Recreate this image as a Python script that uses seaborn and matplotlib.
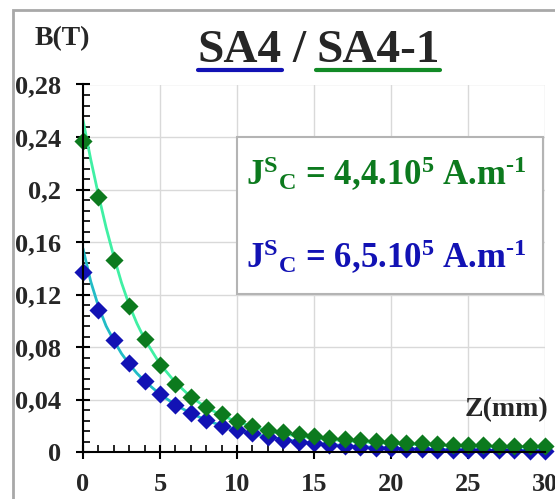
import matplotlib
matplotlib.use('Agg')
import matplotlib.pyplot as plt
import seaborn as sns
import pandas as pd
from matplotlib.patches import Rectangle
from matplotlib.lines import Line2D
from matplotlib.ticker import MultipleLocator, FixedLocator

# ---------------- data ----------------
z_points = list(range(0, 31))
b_sa4_1 = [0.237, 0.194, 0.146, 0.111, 0.086, 0.066, 0.052, 0.042, 0.0345, 0.0287,
           0.024, 0.020, 0.017, 0.015, 0.0135, 0.012, 0.011, 0.010, 0.0092, 0.0085,
           0.0078, 0.0071, 0.0066, 0.0061, 0.0057, 0.0054, 0.0051, 0.0048, 0.0046, 0.0044, 0.0042]
b_sa4 = [0.137, 0.108, 0.085, 0.068, 0.054, 0.044, 0.036, 0.0295, 0.0244, 0.0198,
         0.0168, 0.0142, 0.0112, 0.0092, 0.0079, 0.0066, 0.0055, 0.0047, 0.0039, 0.0034,
         0.0029, 0.0024, 0.0021, 0.0019, 0.0017, 0.0015, 0.0014, 0.0013, 0.0012, 0.0011, 0.0010]

z_curve = [0, 0.5, 1, 1.5, 2, 2.5, 3, 3.5, 4, 5, 6, 7, 8, 9, 10, 12, 14, 16, 18, 20, 22, 25, 28, 30]
fit_sa4_1 = [0.253, 0.223, 0.196, 0.171, 0.149, 0.129, 0.112, 0.098, 0.086, 0.067, 0.053, 0.042,
             0.034, 0.028, 0.023, 0.016, 0.012, 0.0095, 0.0078, 0.0065, 0.0055, 0.0045, 0.0038, 0.0035]
fit_sa4 = [0.155, 0.130, 0.111, 0.096, 0.085, 0.075, 0.067, 0.060, 0.054, 0.044, 0.036, 0.0295,
           0.0243, 0.020, 0.0165, 0.0115, 0.008, 0.0057, 0.0041, 0.003, 0.0023, 0.0016, 0.0012, 0.001]

y_ticks = [0, 0.04, 0.08, 0.12, 0.16, 0.20, 0.24, 0.28]
y_tick_labels = ["0", "0,04", "0,08", "0,12", "0,16", "0,2", "0,24", "0,28"]
x_ticks = [0, 5, 10, 15, 20, 25, 30]
x_tick_labels = ["0", "5", "10", "15", "20", "25", "30"]

title_left = "SA4"
title_right = "SA4-1"
label_green = "J$^{\\mathbf{S}}$$_{\\mathbf{C}}$ = 4,4.10$^{\\mathbf{5}}$ A.m$^{\\mathbf{\u2010 1}}$"
label_blue = "J$^{\\mathbf{S}}$$_{\\mathbf{C}}$ = 6,5.10$^{\\mathbf{5}}$ A.m$^{\\mathbf{\u2010 1}}$"

# ---------------- style ----------------
sns.set_style("white")
plt.rcParams['font.family'] = ['Liberation Serif', 'DejaVu Serif']
plt.rcParams['font.weight'] = 'bold'
plt.rcParams['mathtext.fontset'] = 'custom'
plt.rcParams['mathtext.rm'] = 'Liberation Serif:bold'
plt.rcParams['mathtext.bf'] = 'Liberation Serif:bold'
plt.rcParams['mathtext.it'] = 'Liberation Serif:bold'

GREEN = '#0c7a1e'
BLUE = '#1212b4'
GREEN_FIT = '#40f0a4'
BLUE_FIT = '#22bcc6'

W, H = 555, 499
fig = plt.figure(figsize=(W / 100, H / 100), dpi=100)
fig.patch.set_facecolor('white')
ax = fig.add_axes([83 / W, 1 - 452 / H, (545 - 83) / W, (452 - 84.5) / H])

df_pts = pd.DataFrame({'z': z_points, 'sa4_1': b_sa4_1, 'sa4': b_sa4})
df_fit = pd.DataFrame({'z': z_curve, 'sa4_1': fit_sa4_1, 'sa4': fit_sa4})

sns.lineplot(data=df_fit, x='z', y='sa4', ax=ax, color=BLUE_FIT, lw=2.0, zorder=3)
sns.lineplot(data=df_fit, x='z', y='sa4_1', ax=ax, color=GREEN_FIT, lw=2.0, zorder=3)
sns.scatterplot(data=df_pts, x='z', y='sa4', ax=ax, marker='D', s=85, color=BLUE,
                linewidth=0, zorder=4, clip_on=False)
sns.scatterplot(data=df_pts, x='z', y='sa4_1', ax=ax, marker='D', s=85, color=GREEN,
                linewidth=0, zorder=4, clip_on=False)

ax.set_xlim(0, 30)
ax.set_ylim(0, 0.28)
ax.set_xlabel('')
ax.set_ylabel('')
ax.xaxis.set_major_locator(FixedLocator(x_ticks))
ax.set_xticklabels(x_tick_labels)
ax.yaxis.set_major_locator(FixedLocator(y_ticks))
ax.set_yticklabels(y_tick_labels)
ax.xaxis.set_minor_locator(MultipleLocator(1))
ax.yaxis.set_minor_locator(MultipleLocator(0.008))

for s in ['top', 'right']:
    ax.spines[s].set_visible(False)
for s in ['left', 'bottom']:
    ax.spines[s].set_color('black')
    ax.spines[s].set_linewidth(1.5)
    ax.spines[s].set_zorder(5)

ax.tick_params(which='major', direction='inout', length=10, width=1.5, color='black',
               labelsize=19, left=True, bottom=True)
ax.tick_params(axis='y', which='major', pad=11)
ax.tick_params(axis='x', which='major', pad=10)
ax.tick_params(which='minor', direction='in', length=5, width=1.2, color='black',
               left=True, bottom=True)
for lab in ax.get_xticklabels() + ax.get_yticklabels():
    lab.set_fontweight('bold')

ax.grid(True, which='major', color='#d9d9d9', lw=1.0, zorder=0)
ax.set_axisbelow(True)

# legend-like box
ax.add_patch(Rectangle((237 / W, 1 - 294 / H), (543 - 237) / W, (294 - 137) / H,
                       transform=fig.transFigure, facecolor='white', edgecolor='#b4b4b4',
                       lw=1.5, zorder=6, clip_on=False))
fig.text(246 / W, 1 - 185 / H, label_green, color=GREEN, fontsize=25, fontweight='bold',
         ha='left', va='baseline', zorder=7)
fig.text(246 / W, 1 - 268 / H, label_blue, color=BLUE, fontsize=25, fontweight='bold',
         ha='left', va='baseline', zorder=7)

# axis labels
fig.text(35 / W, 1 - 45 / H, "B(T)", fontsize=20, fontweight='bold', ha='left', va='baseline')
fig.text(548 / W, 1 - 416 / H, "Z(mm)", fontsize=20, fontweight='bold', ha='right',
         va='baseline', zorder=8)

# title with coloured underlines
yb = 1 - 62 / H
t1 = fig.text(282 / W, yb, title_left, fontsize=34, fontweight='bold', ha='right', va='baseline')
fig.text(299 / W, yb, "/", fontsize=34, fontweight='bold', ha='center', va='baseline')
t2 = fig.text(316 / W, yb, title_right, fontsize=34, fontweight='bold', ha='left', va='baseline')
fig.canvas.draw()
r = fig.canvas.get_renderer()
uy = 1 - 69.5 / H
for t, c in [(t1, BLUE), (t2, '#128a26')]:
    bb = t.get_window_extent(renderer=r)
    fig.add_artist(Line2D([bb.x0 / W, bb.x1 / W], [uy, uy], color=c, lw=3,
                          transform=fig.transFigure))

# outer frame
fig.add_artist(Rectangle((13 / W, -0.1), 1.2, 1.1 - 10 / H, transform=fig.transFigure,
                         fill=False, edgecolor='#a8a8a8', lw=2))

fig.savefig('out.png', dpi=100, facecolor='white')
